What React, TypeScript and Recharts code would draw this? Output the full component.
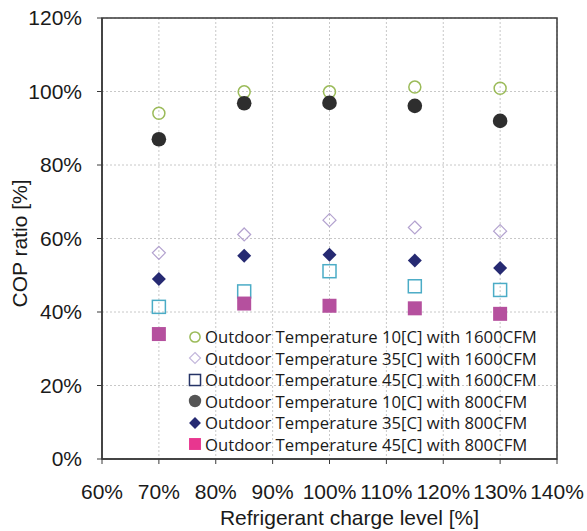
import { ScatterChart, Scatter, XAxis, YAxis, CartesianGrid, ReferenceArea, Label } from 'recharts';

const chargeLevels = [0.7, 0.85, 1.0, 1.15, 1.3];
const xTicks = [0.6, 0.7, 0.8, 0.9, 1.0, 1.1, 1.2, 1.3, 1.4];
const yTicks = [0, 0.2, 0.4, 0.6, 0.8, 1.0, 1.2];

const t10cfm1600 = [0.941, 0.999, 0.999, 1.012, 1.009];
const t35cfm1600 = [0.561, 0.611, 0.65, 0.63, 0.62];
const t45cfm1600 = [0.414, 0.456, 0.511, 0.47, 0.46];
const t10cfm800 = [0.87, 0.968, 0.969, 0.961, 0.92];
const t35cfm800 = [0.49, 0.553, 0.556, 0.54, 0.52];
const t45cfm800 = [0.34, 0.423, 0.417, 0.41, 0.395];

const series = [
	{ name: 'Outdoor Temperature 10[C] with 1600CFM', values: t10cfm1600, kind: 'openCircle', color: '#9bbb59', legendColor: '#9bbb59' },
	{ name: 'Outdoor Temperature 35[C] with 1600CFM', values: t35cfm1600, kind: 'openDiamond', color: '#b3a2cf', legendColor: '#c4b8dc' },
	{ name: 'Outdoor Temperature 45[C] with 1600CFM', values: t45cfm1600, kind: 'openSquare', color: '#4bacc6', legendColor: '#253366' },
	{ name: 'Outdoor Temperature 10[C] with 800CFM', values: t10cfm800, kind: 'circle', color: '#2e2e2e', legendColor: '#555555' },
	{ name: 'Outdoor Temperature 35[C] with 800CFM', values: t35cfm800, kind: 'diamond', color: '#262a72', legendColor: '#262a72' },
	{ name: 'Outdoor Temperature 45[C] with 800CFM', values: t45cfm800, kind: 'square', color: '#b5509e', legendColor: '#e8368f' },
];

const pct = (v: number) => `${Math.round(v * 100)}%`;

function Marker({ kind, cx, cy, color, s = 1 }: any) {
	if (cx == null || cy == null) return null;
	switch (kind) {
		case 'openCircle':
			return <circle cx={cx} cy={cy} r={6 * s} fill="none" stroke={color} strokeWidth={1.5} />;
		case 'circle':
			return <circle cx={cx} cy={cy} r={7.3 * s} fill={color} />;
		case 'openDiamond': {
			const d = 6.5 * s;
			return <polygon points={`${cx},${cy - d} ${cx + d},${cy} ${cx},${cy + d} ${cx - d},${cy}`} fill="none" stroke={color} strokeWidth={1.2} />;
		}
		case 'diamond': {
			const d = 7 * s;
			return <polygon points={`${cx},${cy - d} ${cx + d},${cy} ${cx},${cy + d} ${cx - d},${cy}`} fill={color} />;
		}
		case 'openSquare': {
			const h = 6.5 * s;
			return <rect x={cx - h} y={cy - h} width={2 * h} height={2 * h} fill="none" stroke={color} strokeWidth={1.5} />;
		}
		case 'square': {
			const h = 7 * s;
			return <rect x={cx - h} y={cy - h} width={2 * h} height={2 * h} fill={color} />;
		}
	}
	return null;
}

const font = 'Liberation Sans, Arial, sans-serif';
const tickStyle = { fontFamily: font, fontSize: 21, fill: '#1a1a1a' };

export default function App() {
	return (
		<div style={{ position: 'absolute', left: 0, top: 0, width: 587, height: 531, background: '#fff' }}>
			<ScatterChart width={587} height={531} margin={{ top: 18, right: 30, left: 0, bottom: 0 }}>
				<CartesianGrid stroke="#c8c8c8" strokeDasharray="2 2" verticalValues={xTicks} horizontalValues={yTicks} />
				<XAxis
					type="number"
					dataKey="x"
					domain={[0.6, 1.4]}
					ticks={xTicks}
					interval={0}
					tickFormatter={pct}
					height={72}
					tick={tickStyle}
					tickSize={5}
					tickMargin={20}
					stroke="#3a3a3a"
					axisLine={{ stroke: '#3a3a3a', strokeWidth: 1.5 }}
				>
					<Label
						value="Refrigerant charge level [%]"
						position="insideBottom"
						offset={6}
						dx={20}
						style={{ fontFamily: font, fontSize: 21, fill: '#1a1a1a' }}
					/>
				</XAxis>
				<YAxis
					type="number"
					dataKey="y"
					domain={[0, 1.2]}
					ticks={yTicks}
					interval={0}
					tickFormatter={pct}
					width={102}
					tick={tickStyle}
					tickSize={5}
					tickMargin={15}
					stroke="#3a3a3a"
					axisLine={{ stroke: '#3a3a3a', strokeWidth: 1.5 }}
				>
					<Label
						value="COP ratio [%]"
						angle={-90}
						position="insideLeft"
						offset={20}
						dy={5}
						style={{ textAnchor: 'middle', fontFamily: font, fontSize: 21, fill: '#1a1a1a' }}
					/>
				</YAxis>
				<ReferenceArea x1={0.6} x2={1.4} y1={0} y2={1.2} fill="none" stroke="#3a3a3a" strokeWidth={1.5} />
				{series.map((s) => (
					<Scatter
						key={s.name}
						name={s.name}
						data={chargeLevels.map((x, i) => ({ x, y: s.values[i] }))}
						isAnimationActive={false}
						shape={(p: any) => <Marker kind={s.kind} cx={p.cx} cy={p.cy} color={s.color} />}
					/>
				))}
			</ScatterChart>
			<div style={{ position: 'absolute', left: 187, top: 326, fontFamily: 'Open Sans, sans-serif', fontSize: 16.7, color: '#1a1a1a' }}>
				{series.map((s) => (
					<div key={s.name} style={{ display: 'flex', alignItems: 'center', height: 21.5, whiteSpace: 'nowrap' }}>
						<svg width={16} height={16} style={{ marginRight: 2 }}>
							<Marker kind={s.kind} cx={8} cy={8} color={s.legendColor} s={0.85} />
						</svg>
						<span>{s.name}</span>
					</div>
				))}
			</div>
		</div>
	);
}
